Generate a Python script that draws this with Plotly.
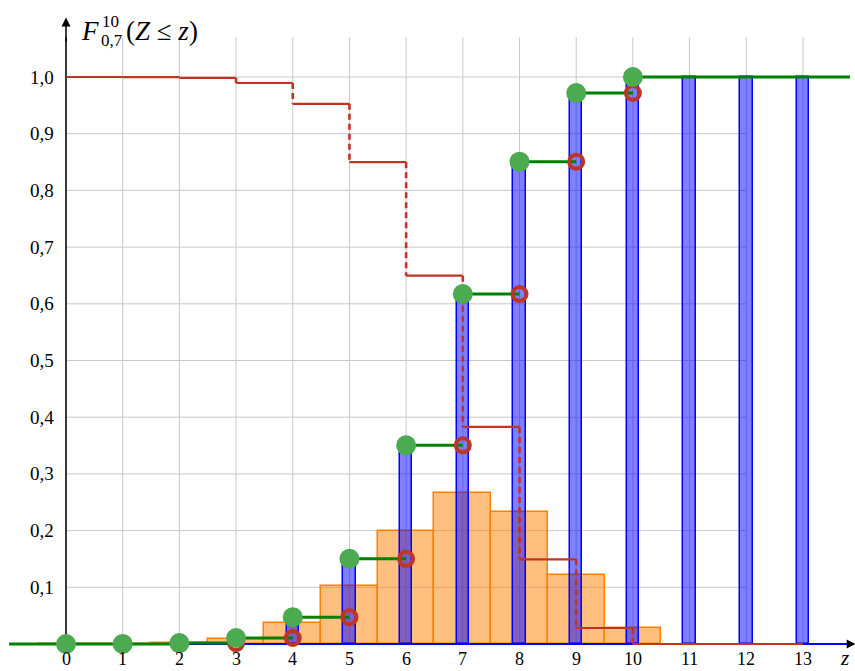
import plotly.graph_objects as go

# Binomial distribution n = 10, p = 0.7
z_vals = list(range(0, 11))
pmf = [0.0000, 0.0001, 0.0014, 0.0090, 0.0368, 0.1029, 0.2001, 0.2668, 0.2335, 0.1211, 0.0282]
cdf = [0.0000, 0.0001, 0.0016, 0.0106, 0.0473, 0.1503, 0.3504, 0.6172, 0.8507, 0.9718, 1.0000]
tail = [1.0000, 0.9999, 0.9984, 0.9894, 0.9527, 0.8497, 0.6496, 0.3828, 0.1493, 0.0282, 0.0000]

bar_x = list(range(0, 14))
bar_cdf = cdf + [1.0, 1.0, 1.0]

x_ticks = list(range(0, 14))
y_ticks = [0.1, 0.2, 0.3, 0.4, 0.5, 0.6, 0.7, 0.8, 0.9, 1.0]
y_tick_labels = ["0,1", "0,2", "0,3", "0,4", "0,5", "0,6", "0,7", "0,8", "0,9", "1,0"]

X0, X1 = -1.0, 13.83      # extent of the step function
RED = "rgb(192,52,36)"
GREEN_LINE = "rgb(0,128,0)"
GREEN_DOT = "rgb(76,170,80)"
FONT = "Liberation Serif, DejaVu Serif, serif"

fig = go.Figure()

# probability mass as unit-width histogram
fig.add_trace(go.Bar(
    x=z_vals, y=pmf, width=1.0,
    marker=dict(color="rgba(255,128,0,0.5)", line=dict(color="rgb(255,128,0)", width=1.5)),
    hoverinfo="skip"))

# cumulative values as narrow bars
fig.add_trace(go.Bar(
    x=bar_x, y=bar_cdf, width=0.22,
    marker=dict(color="rgba(0,0,255,0.5)", line=dict(color="rgb(0,0,255)", width=1.5)),
    hoverinfo="skip"))

# vertical axis line
fig.add_trace(go.Scatter(x=[0, 0], y=[0, 1.07], mode="lines",
                         line=dict(color="black", width=1.5), hoverinfo="skip"))
# horizontal baseline
fig.add_trace(go.Scatter(x=[X0, 13.85], y=[0, 0], mode="lines",
                         line=dict(color="rgb(0,0,255)", width=2), hoverinfo="skip"))

# upper tail P(Z > z): solid horizontals, dashed jumps
hx, hy = [], []
for k in range(len(tail) - 1):
    hx += [k, k + 1, None]
    hy += [tail[k], tail[k], None]
hx += [10, 13, None]
hy += [tail[10], tail[10], None]
fig.add_trace(go.Scatter(x=hx, y=hy, mode="lines",
                         line=dict(color=RED, width=2.2), hoverinfo="skip"))
vx, vy = [], []
for k in range(1, len(tail)):
    vx += [k, k, None]
    vy += [tail[k - 1], tail[k], None]
fig.add_trace(go.Scatter(x=vx, y=vy, mode="lines",
                         line=dict(color=RED, width=2.6, dash="6px,4px"), hoverinfo="skip"))

# distribution function F(z) as a step function
gx, gy = [X0, 0, None], [0, 0, None]
for k in range(len(cdf) - 1):
    gx += [k, k + 1, None]
    gy += [cdf[k], cdf[k], None]
gx += [10, X1]
gy += [cdf[10], cdf[10]]
fig.add_trace(go.Scatter(x=gx, y=gy, mode="lines",
                         line=dict(color=GREEN_LINE, width=3), hoverinfo="skip"))

# open ends of the steps
fig.add_trace(go.Scatter(x=z_vals[1:], y=cdf[:-1], mode="markers",
                         marker=dict(symbol="circle-open", size=14, color=RED,
                                     line=dict(color=RED, width=4)),
                         hoverinfo="skip"))
# closed ends of the steps
fig.add_trace(go.Scatter(x=z_vals, y=cdf, mode="markers",
                         marker=dict(symbol="circle", size=20, color=GREEN_DOT),
                         hoverinfo="skip"))

# grid
shapes = []
for t in x_ticks:
    shapes.append(dict(type="line", xref="x", yref="y", x0=t, x1=t, y0=0, y1=1.07,
                       line=dict(color="rgb(200,200,200)", width=1), layer="below"))
for t in y_ticks:
    shapes.append(dict(type="line", xref="x", yref="y", x0=0, x1=12, y0=t, y1=t,
                       line=dict(color="rgb(200,200,200)", width=1), layer="below"))

annotations = []
for t in x_ticks:
    annotations.append(dict(x=t, y=0, xref="x", yref="y", text=str(t), showarrow=False,
                            yanchor="top", yshift=-3, font=dict(family=FONT, size=18, color="black")))
for t, lab in zip(y_ticks, y_tick_labels):
    annotations.append(dict(x=0, y=t, xref="x", yref="y", text=lab, showarrow=False,
                            xanchor="right", xshift=-10, font=dict(family=FONT, size=19, color="black")))

# axis arrows
annotations.append(dict(x=13.93, y=0, ax=13.8, ay=0, xref="x", yref="y", axref="x", ayref="y",
                        text="", showarrow=True, arrowhead=2, arrowsize=1.2, arrowwidth=1.5,
                        arrowcolor="black"))
annotations.append(dict(x=0, y=1.105, ax=0, ay=1.06, xref="x", yref="y", axref="x", ayref="y",
                        text="", showarrow=True, arrowhead=2, arrowsize=1.2, arrowwidth=1.5,
                        arrowcolor="black"))

# axis labels
def px_x(p):
    return (p - 66) / 56.69

def px_y(p):
    return (644 - p) / 567.0

annotations.append(dict(x=px_x(79), y=px_y(31), xref="x", yref="y", text="<i>F</i>",
                        showarrow=False, xanchor="left", yanchor="middle",
                        font=dict(family=FONT, size=27, color="black")))
annotations.append(dict(x=px_x(100), y=px_y(21), xref="x", yref="y", text="10",
                        showarrow=False, xanchor="left", yanchor="middle",
                        font=dict(family=FONT, size=17, color="black")))
annotations.append(dict(x=px_x(99), y=px_y(40), xref="x", yref="y", text="0,7",
                        showarrow=False, xanchor="left", yanchor="middle",
                        font=dict(family=FONT, size=17, color="black")))
annotations.append(dict(x=px_x(124), y=px_y(31), xref="x", yref="y", text="(<i>Z</i> ≤ <i>z</i>)",
                        showarrow=False, xanchor="left", yanchor="middle",
                        font=dict(family=FONT, size=27, color="black")))
annotations.append(dict(x=px_x(851), y=0, xref="x", yref="y", text="<i>z</i>",
                        showarrow=False, xanchor="right", yanchor="top", yshift=0,
                        font=dict(family=FONT, size=21, color="black")))

fig.update_layout(
    width=855, height=671,
    margin=dict(l=0, r=0, t=0, b=0),
    paper_bgcolor="white", plot_bgcolor="white",
    showlegend=False, barmode="overlay", bargap=0,
    xaxis=dict(range=[-66 / 56.69, (855 - 66) / 56.69], visible=False, fixedrange=True),
    yaxis=dict(range=[-(671 - 644) / 567.0, 644 / 567.0], visible=False, fixedrange=True),
    shapes=shapes, annotations=annotations,
)

fig.write_html("out.html")
